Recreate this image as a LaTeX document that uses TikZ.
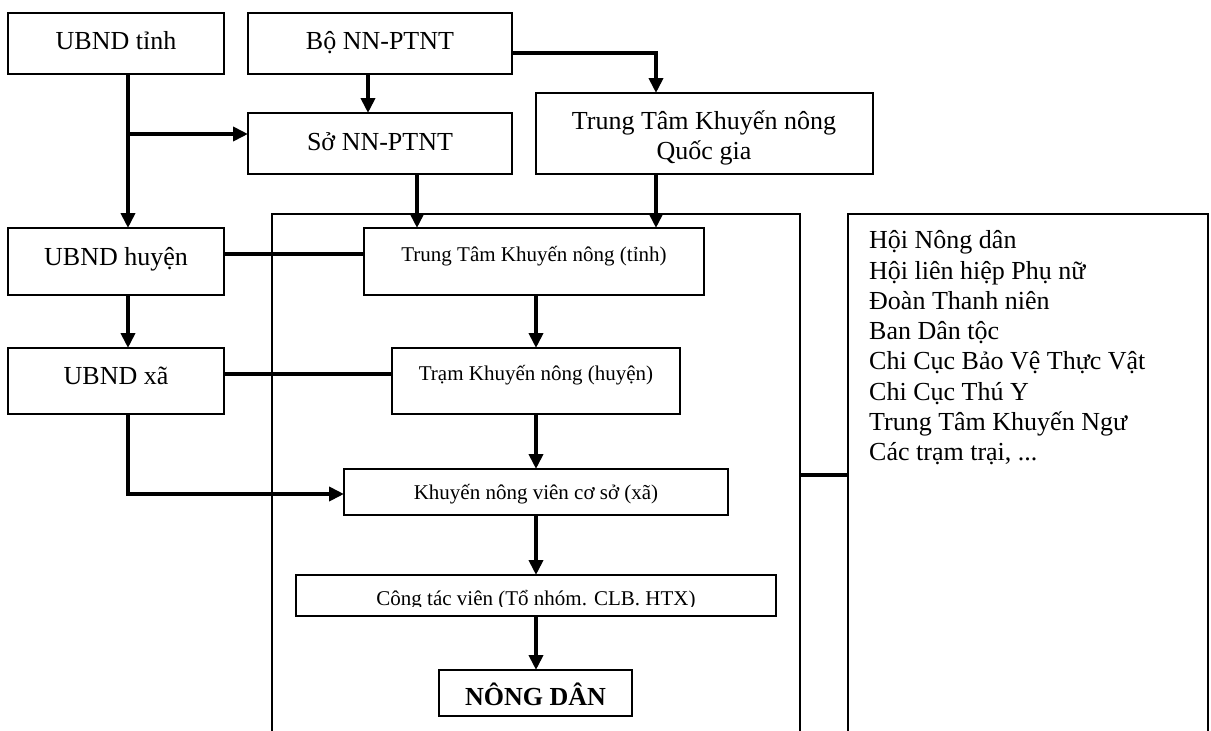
\documentclass[tikz,border=0pt]{standalone}
\usepackage{fontspec}
\setmainfont{Liberation Serif}
\usetikzlibrary{arrows.meta}
\begin{document}
\begin{tikzpicture}[x=1pt,y=-1pt,
  box/.style={draw=black,line width=1.8pt,inner sep=0pt,outer sep=0pt},
  bigtxt/.style={inner sep=0pt,anchor=base,font=\fontsize{26}{30.3}\selectfont},
  smalltxt/.style={inner sep=0pt,anchor=base,font=\fontsize{21}{25}\selectfont},
  conn/.style={line width=4pt},
  arr/.style={conn,-{Triangle[length=15pt,width=14pt]}}]
\useasboundingbox (0,0) rectangle (1211,731);
% large open frames
\node[box,minimum width=528pt,minimum height=546pt] (frame) at (536,487) {};
\node[box,minimum width=360pt,minimum height=546pt] (others) at (1028,487) {};
% boxes
\node[box,minimum width=216pt,minimum height=61pt] (ut) at (116,43.5) {};
\node[box,minimum width=264pt,minimum height=61pt] (bo) at (380,43.5) {};
\node[box,minimum width=264pt,minimum height=61pt] (so) at (380,143.5) {};
\node[box,minimum width=337pt,minimum height=81pt] (qg) at (704.5,133.5) {};
\node[box,minimum width=216pt,minimum height=67pt] (uh) at (116,261.5) {};
\node[box,minimum width=216pt,minimum height=66pt] (ux) at (116,381) {};
\node[box,minimum width=340pt,minimum height=67pt] (tk) at (534,261.5) {};
\node[box,minimum width=288pt,minimum height=66pt] (tr) at (536,381) {};
\node[box,minimum width=384pt,minimum height=46pt] (kn) at (536,492) {};
\node[box,minimum width=480pt,minimum height=41pt] (ct) at (536,595.5) {};
\node[box,minimum width=193pt,minimum height=46pt] (nd) at (535.5,693) {};
% texts
\node[bigtxt] (tut) at (116,49) {UBND tỉnh};
\node[bigtxt] (tbo) at (380,49) {Bộ NN-PTNT};
\node[bigtxt] (tso) at (380,150) {Sở NN-PTNT};
\node[bigtxt,anchor=north,align=center] (tqg) at (704,109) {\rule{0pt}{20pt}Trung Tâm Khuyến nông\\Quốc gia};
\node[bigtxt] (tuh) at (116,265) {UBND huyện};
\node[bigtxt] (tux) at (116,384) {UBND xã};
\node[smalltxt] (ttk) at (534,261) {Trung Tâm Khuyến nông (tỉnh)};
\node[smalltxt] (ttr) at (536,380) {Trạm Khuyến nông (huyện)};
\node[smalltxt] (tkn) at (536,499) {Khuyến nông viên cơ sở (xã)};
\begin{scope}
\clip (296,575) rectangle (776,606.5);
\node[smalltxt] (tct) at (536,605.5) {Công tác viên (Tổ nhóm. CLB. HTX)};
\end{scope}
\node[bigtxt,font=\fontsize{26}{30.3}\selectfont\bfseries] (tnd) at (535.5,705) {NÔNG DÂN};
\node[bigtxt,anchor=north west,align=left] (tot) at (869,228.5) {\rule{0pt}{20pt}Hội Nông dân\\Hội liên hiệp Phụ nữ\\Đoàn Thanh niên\\Ban Dân tộc\\Chi Cục Bảo Vệ Thực Vật\\Chi Cục Thú Y\\Trung Tâm Khuyến Ngư\\Các trạm trại, ...};
% column coordinates
\coordinate (colA) at (128,0);
\coordinate (colB) at (368,0);
\coordinate (colC) at (656,0);
\coordinate (colD) at (417,0);
\coordinate (colE) at (536,0);
% connectors
\draw[arr] (colA |- ut.south) -- (colA |- uh.north);
\draw[arr] (colA |- so.west) ++(0,-9.5) -- ([yshift=9.5pt]so.west);
\draw[arr] (colB |- bo.south) -- (colB |- so.north);
\draw[arr] ([yshift=-9pt]bo.east) -| (colC |- qg.north);
\draw[arr] (colD |- so.south) -- (colD |- tk.north);
\draw[arr] (colC |- qg.south) -- (colC |- tk.north);
\draw[conn] ([yshift=7.5pt]uh.east) -- ([yshift=7.5pt]tk.west);
\draw[arr] (colA |- uh.south) -- (colA |- ux.north);
\draw[conn] ([yshift=7pt]ux.east) -- ([yshift=7pt]tr.west);
\draw[arr] (colA |- ux.south) |- ([yshift=-2pt]kn.west);
\draw[arr] (colE |- tk.south) -- (colE |- tr.north);
\draw[arr] (colE |- tr.south) -- (colE |- kn.north);
\draw[arr] (colE |- kn.south) -- (colE |- ct.north);
\draw[arr] (colE |- ct.south) -- (colE |- nd.north);
\draw[conn] ([yshift=12pt]frame.east) -- ([yshift=12pt]others.west);
\end{tikzpicture}
\end{document}
